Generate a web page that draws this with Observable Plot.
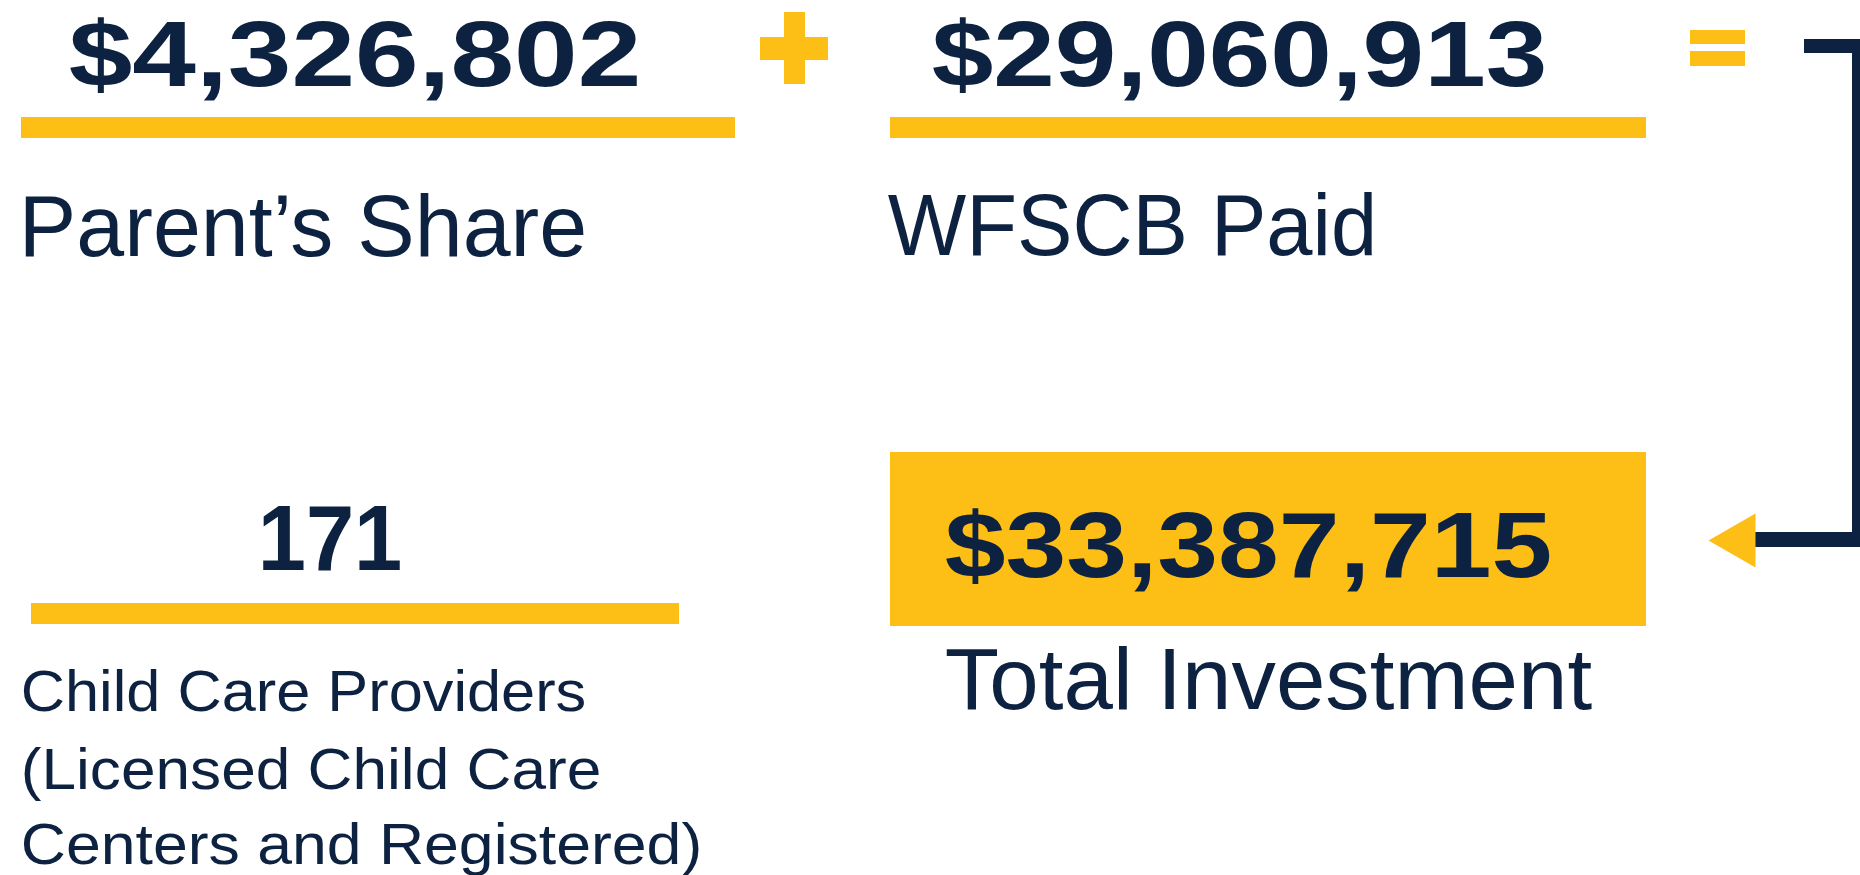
<!DOCTYPE html>
<html><head><meta charset="utf-8">
<script src="https://cdn.jsdelivr.net/npm/d3@7"></script>
<script src="https://cdn.jsdelivr.net/npm/@observablehq/plot@0.6"></script>
<style>html,body{margin:0;padding:0;background:#fff;overflow:hidden} svg{display:block}</style>
</head><body><div id="chart"></div>
<script>
// ---- data ----
const amountLabels = ["Parent’s Share", "WFSCB Paid", "Total Investment"];
const amounts = [4326802, 29060913, 33387715];
const providerCount = [171];
const providerLabelLines = ["Child Care Providers", "(Licensed Child Care", "Centers and Registered)"];

// ---- style ----
const NAVY = "#0D2240", GOLD = "#FDBE15";
const FONT = "'Liberation Sans', Arial, Helvetica, sans-serif";
const fmt = d3.format("$,");

// ---- layout (page pixels) ----
const numberSlots = [
  {x1: 71, x2: 638, base: 85},
  {x1: 934, x2: 1544, base: 85},
  {x1: 947, x2: 1549, base: 576}
];
const countSlot = {x1: 260, x2: 399, base: 569};
const labelSlots = [
  {x1: 21, x2: 584, base: 255},
  {x1: 890, x2: 1374, base: 254},
  {x1: 947, x2: 1589, base: 708}
];
const lineSlots = [
  {x1: 22, x2: 584, base: 710},
  {x1: 22, x2: 599, base: 788},
  {x1: 22, x2: 700, base: 863}
];
const goldRects = [
  {x1: 21, x2: 735, y1: 117, y2: 138},   // underline 1
  {x1: 890, x2: 1646, y1: 117, y2: 138}, // underline 2
  {x1: 31, x2: 679, y1: 603, y2: 624},   // underline 3
  {x1: 890, x2: 1646, y1: 452, y2: 626}, // total box
  {x1: 760, x2: 828, y1: 37, y2: 60},    // plus horizontal
  {x1: 784, x2: 805, y1: 12, y2: 84},    // plus vertical
  {x1: 1690, x2: 1745, y1: 30, y2: 44},  // equals top
  {x1: 1690, x2: 1745, y1: 51, y2: 66}   // equals bottom
];
const navyRects = [
  {x1: 1804, x2: 1860, y1: 39, y2: 53},
  {x1: 1852, x2: 1860, y1: 39, y2: 547},
  {x1: 1755, x2: 1860, y1: 532, y2: 547}
];
const arrowHead = [{x: 1708, y: 540}, {x: 1755, y: 513}, {x: 1755, y: 567}, {x: 1708, y: 540}];

const numbers = amounts.map((v, i) => ({text: fmt(v), ...numberSlots[i]}))
  .concat(providerCount.map(v => ({text: String(v), ...countSlot})));
const labels = amountLabels.map((t, i) => ({text: t, ...labelSlots[i]}));
const lines = providerLabelLines.map((t, i) => ({text: t, ...lineSlots[i]}));

const textMark = (data, size, weight) => Plot.text(data, {
  x: d => d.x1 - 0.03 * size, y: "base", text: "text",
  textAnchor: "start", lineAnchor: "bottom",
  fontSize: size, fontWeight: weight, fontFamily: FONT, fill: NAVY
});

const textGroups = [[numbers, 92, 700], [labels, 88, 400], [lines, 58, 400]];

const svg = Plot.plot({
  width: 1860, height: 875,
  margin: 0,
  x: {domain: [0, 1860], range: [0, 1860], axis: null},
  y: {domain: [0, 875], range: [0, 875], axis: null},
  style: {background: "#fff"},
  marks: [
    Plot.rect(goldRects, {x1: "x1", x2: "x2", y1: "y1", y2: "y2", fill: GOLD}),
    Plot.rect(navyRects, {x1: "x1", x2: "x2", y1: "y1", y2: "y2", fill: NAVY}),
    Plot.line(arrowHead, {x: "x", y: "y", fill: GOLD, stroke: "none"}),
    ...textGroups.map(([d, s, w]) => textMark(d, s, w))
  ]
});

// stretch each text to the width it spans in the reference
const groups = d3.select(svg).selectAll('g[aria-label="text"]').nodes();
groups.forEach((g, k) => {
  const [data, size] = textGroups[k];
  d3.select(g).selectAll("text").each(function(_, i) {
    const d = data[i];
    this.setAttribute("textLength", (d.x2 - d.x1) + 0.06 * size);
    this.setAttribute("lengthAdjust", "spacingAndGlyphs");
  });
});

document.getElementById("chart").appendChild(svg);
</script>
</body></html>
